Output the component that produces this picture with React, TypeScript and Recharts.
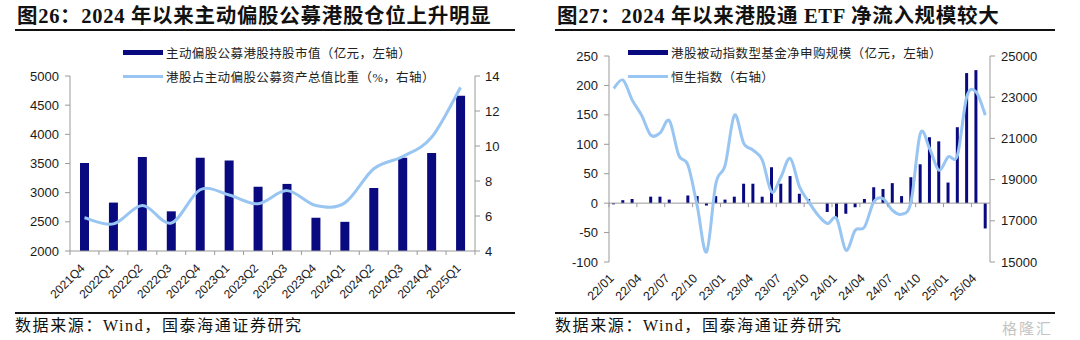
import React from "react";
import { ComposedChart, Bar, Line, XAxis, YAxis, ReferenceLine } from "recharts";

// ---- figure 26 data ----
const quarters = ["2021Q4", "2022Q1", "2022Q2", "2022Q3", "2022Q4", "2023Q1", "2023Q2", "2023Q3", "2023Q4", "2024Q1", "2024Q2", "2024Q3", "2024Q4", "2025Q1"];
const holdingValue = [3510, 2830, 3610, 2680, 3600, 3550, 3100, 3150, 2570, 2500, 3080, 3600, 3680, 4660];
const hkShare = [5.9, 5.55, 6.6, 5.6, 7.5, 7.2, 6.7, 7.45, 6.6, 6.75, 8.7, 9.4, 10.5, 13.35];
const leftTicksA = [2000, 2500, 3000, 3500, 4000, 4500, 5000];
const rightTicksA = [4, 6, 8, 10, 12, 14];

// ---- figure 27 data ----
const months = [
  "22/01", "22/02", "22/03", "22/04", "22/05", "22/06", "22/07", "22/08", "22/09", "22/10", "22/11", "22/12",
  "23/01", "23/02", "23/03", "23/04", "23/05", "23/06", "23/07", "23/08", "23/09", "23/10", "23/11", "23/12",
  "24/01", "24/02", "24/03", "24/04", "24/05", "24/06", "24/07", "24/08", "24/09", "24/10", "24/11", "24/12",
  "25/01", "25/02", "25/03", "25/04", "25/05",
];
const etfFlow = [-2, 5, 7, 0, 11, 11, 6, 0, 13, 12, -4, 12, 6, 11, 33, 33, 11, 61, 33, 46, 16, 7, 0, -15, -25, -18, -7, 7, 27, 24, 34, 12, 44, 66, 112, 105, 35, 129, 221, 226, -43];
const hsi = [23430, 23830, 22860, 22130, 21160, 21270, 21860, 20190, 19700, 17700, 15490, 18810, 19700, 22130, 20760, 20430, 19940, 18400, 19130, 20030, 18650, 17920, 17270, 16870, 17110, 15570, 16540, 16700, 17920, 18080, 17510, 17320, 17920, 21240, 20510, 19460, 20100, 20190, 23020, 23260, 22130];
const leftTicksB = [-100, -50, 0, 50, 100, 150, 200, 250];
const rightTicksB = [15000, 17000, 19000, 21000, 23000, 25000];

const dataA = quarters.map((q, i) => ({ q, value: holdingValue[i], share: hkShare[i] }));
const dataB = months.map((m, i) => ({ m, flow: etfFlow[i], hsi: hsi[i] }));

const NAVY = "#0A0A80";
const SKY = "#99C5F2";
const AXIS = "#9A9A9A";
const TICK_FONT = { fontSize: 13, fill: "#1a1a1a", fontFamily: "'Liberation Sans', Arial, sans-serif" };
const CJK = "'Liberation Serif', 'Noto Sans CJK SC', serif";

// excel-like smoothed line (catmull-rom as cubic beziers)
function smoothCurve(context: any) {
  let pts: number[][] = [];
  return {
    areaStart() {},
    areaEnd() {},
    lineStart() { pts = []; },
    point(x: number, y: number) { pts.push([+x, +y]); },
    lineEnd() {
      if (!pts.length) return;
      context.moveTo(pts[0][0], pts[0][1]);
      const k = 1 / 6;
      for (let i = 0; i < pts.length - 1; i++) {
        const p0 = pts[i - 1] || pts[i];
        const p1 = pts[i];
        const p2 = pts[i + 1];
        const p3 = pts[i + 2] || p2;
        context.bezierCurveTo(
          p1[0] + (p2[0] - p0[0]) * k, p1[1] + (p2[1] - p0[1]) * k,
          p2[0] - (p3[0] - p1[0]) * k, p2[1] - (p3[1] - p1[1]) * k,
          p2[0], p2[1]
        );
      }
    },
  };
}

// chart A geometry
const A_M = { top: 76, right: 20, bottom: 9, left: 20 };
const A_BAND = (540 - A_M.left - A_M.right - 50 - 45) / quarters.length;

function QuarterTick(props: any) {
  const { x, y, payload, index } = props;
  const h = A_BAND / 2;
  return (
    <g>
      <line x1={x - h} x2={x - h} y1={y} y2={y + 4} stroke={AXIS} />
      {index === quarters.length - 1 && <line x1={x + h} x2={x + h} y1={y} y2={y + 4} stroke={AXIS} />}
      <text x={x + 1} y={y + 18} textAnchor="end" transform={`rotate(-45 ${x + 1} ${y + 18})`} {...TICK_FONT} fontSize={12}>
        {payload.value}
      </text>
    </g>
  );
}

// chart B geometry
const B_M = { top: 56, right: 35, bottom: 3, left: 19 };
const B_PLOT_H = 310 - B_M.top - B_M.bottom - 45;
const B_BAND = (540 - B_M.left - B_M.right - 50 - 55) / months.length;
const B_ZERO = B_M.top + (250 / 350) * B_PLOT_H;

function MonthTick(props: any) {
  const { x, y, payload } = props;
  const bx = x - B_BAND / 2;
  return (
    <g>
      <line x1={bx} x2={bx} y1={B_ZERO} y2={B_ZERO + 4} stroke={AXIS} />
      <text x={x + 1} y={y + 17} textAnchor="end" transform={`rotate(-45 ${x + 1} ${y + 17})`} {...TICK_FONT} fontSize={12.5}>
        {payload.value}
      </text>
    </g>
  );
}

function Legend({ left, items, fontSize }: { left: number; items: { label: string; kind: string }[]; fontSize: number }) {
  return (
    <>
      {items.map((it, i) => (
        <div key={i} style={{ position: "absolute", left, top: 52 + i * 24.7 - 9, height: 18, display: "flex", alignItems: "center" }}>
          <div style={{ width: 40, height: it.kind === "bar" ? 5 : 3, background: it.kind === "bar" ? NAVY : SKY, marginRight: 3 }} />
          <span style={{ fontSize, fontFamily: CJK, color: "#222", letterSpacing: 0.4, whiteSpace: "nowrap" }}>{it.label}</span>
        </div>
      ))}
    </>
  );
}

function Frame({ title, children }: { title: string; children: React.ReactNode }) {
  return (
    <div style={{ position: "relative", width: 540, height: 340 }}>
      <div style={{ position: "absolute", left: 17, top: 4, fontSize: 20.5, lineHeight: "24px", fontWeight: 700, fontFamily: CJK, letterSpacing: 0.7, whiteSpace: "nowrap", color: "#111" }}>
        {title}
      </div>
      <div style={{ position: "absolute", left: 15, top: 28.5, width: 500, height: 2, background: "#111" }} />
      {children}
      <div style={{ position: "absolute", left: 15, top: 312, width: 500, height: 2, background: "#111" }} />
      <div style={{ position: "absolute", left: 15, top: 316, fontSize: 16, lineHeight: "20px", fontFamily: CJK, letterSpacing: 1.6, whiteSpace: "nowrap", color: "#111" }}>
        数据来源：Wind，国泰海通证券研究
      </div>
    </div>
  );
}

export default function App() {
  return (
    <div style={{ position: "absolute", left: 0, top: 0, width: 1080, height: 340, background: "#fff", display: "flex" }}>
      <Frame title="图26：2024 年以来主动偏股公募港股仓位上升明显">
        <div style={{ position: "absolute", left: 0, top: 0 }}>
          <ComposedChart width={540} height={310} data={dataA} margin={A_M}>
            <XAxis dataKey="q" height={50} interval={0} axisLine={{ stroke: AXIS }} tickLine={false} tickSize={0} tickMargin={0} tick={<QuarterTick />} />
            <YAxis yAxisId="l" width={50} domain={[2000, 5000]} ticks={leftTicksA} allowDataOverflow axisLine={{ stroke: AXIS }} tickLine={{ stroke: AXIS }} tickSize={5} tickMargin={6} tick={TICK_FONT} />
            <YAxis yAxisId="r" orientation="right" width={45} domain={[4, 14]} ticks={rightTicksA} axisLine={{ stroke: AXIS }} tickLine={{ stroke: AXIS }} tickSize={5} tickMargin={5} tick={TICK_FONT} />
            <Bar yAxisId="l" dataKey="value" fill={NAVY} barSize={9} isAnimationActive={false} />
            <Line yAxisId="r" dataKey="share" type={smoothCurve as any} stroke={SKY} strokeWidth={3} dot={false} isAnimationActive={false} />
          </ComposedChart>
        </div>
        <Legend
          left={123}
          fontSize={12.5}
          items={[
            { label: "主动偏股公募港股持股市值（亿元，左轴）", kind: "bar" },
            { label: "港股占主动偏股公募资产总值比重（%，右轴）", kind: "line" },
          ]}
        />
      </Frame>
      <Frame title="图27：2024 年以来港股通 ETF 净流入规模较大">
        <div style={{ position: "absolute", left: 0, top: 0 }}>
          <ComposedChart width={540} height={310} data={dataB} margin={B_M}>
            <XAxis dataKey="m" height={45} interval={2} axisLine={false} tickLine={false} tickSize={0} tickMargin={0} tick={<MonthTick />} />
            <YAxis yAxisId="l" width={50} domain={[-100, 250]} ticks={leftTicksB} axisLine={{ stroke: AXIS }} tickLine={{ stroke: AXIS }} tickSize={5} tickMargin={6} tick={TICK_FONT} />
            <YAxis yAxisId="r" orientation="right" width={55} domain={[15000, 25000]} ticks={rightTicksB} axisLine={{ stroke: AXIS }} tickLine={{ stroke: AXIS }} tickSize={5} tickMargin={6} tick={TICK_FONT} />
            <ReferenceLine yAxisId="l" y={0} stroke={AXIS} />
            <Bar yAxisId="l" dataKey="flow" fill={NAVY} barSize={3} isAnimationActive={false} />
            <Line yAxisId="r" dataKey="hsi" type={smoothCurve as any} stroke={SKY} strokeWidth={3} dot={false} isAnimationActive={false} />
          </ComposedChart>
        </div>
        <Legend
          left={88}
          fontSize={12.5}
          items={[
            { label: "港股被动指数型基金净申购规模（亿元，左轴）", kind: "bar" },
            { label: "恒生指数（右轴）", kind: "line" },
          ]}
        />
        <div style={{ position: "absolute", left: 462, top: 317, fontSize: 15, fontFamily: "'Noto Sans CJK SC', sans-serif", color: "#c4c4c4", letterSpacing: 2 }}>
          格隆汇
        </div>
      </Frame>
    </div>
  );
}
